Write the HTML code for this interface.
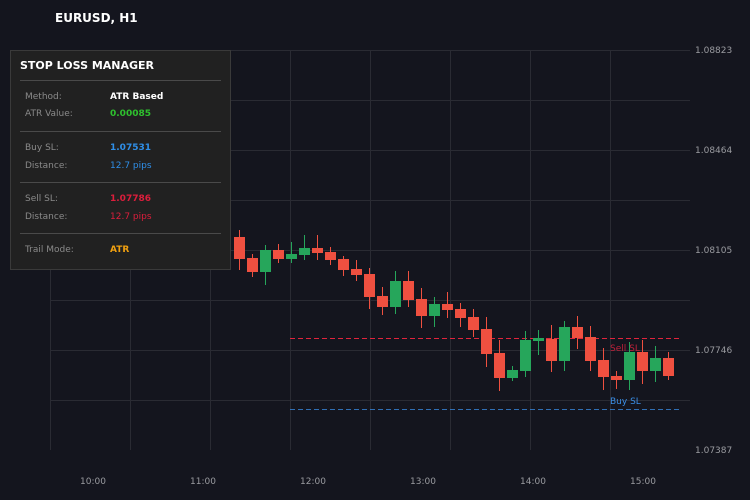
<!DOCTYPE html>
<html><head><meta charset="utf-8"><style>
html,body{margin:0;padding:0;background:#14151e;}
svg{display:block;font-family:"DejaVu Sans","Liberation Sans",sans-serif;}
</style></head><body>
<svg width="750" height="500" viewBox="0 0 750 500" xmlns="http://www.w3.org/2000/svg">
<rect width="750" height="500" fill="#14151e"/>
<g stroke="#2a2b33" stroke-width="1">
<line x1="50" y1="50.5" x2="690" y2="50.5"/>
<line x1="50" y1="100.5" x2="690" y2="100.5"/>
<line x1="50" y1="150.5" x2="690" y2="150.5"/>
<line x1="50" y1="200.5" x2="690" y2="200.5"/>
<line x1="50" y1="250.5" x2="690" y2="250.5"/>
<line x1="50" y1="300.5" x2="690" y2="300.5"/>
<line x1="50" y1="350.5" x2="690" y2="350.5"/>
<line x1="50" y1="400.5" x2="690" y2="400.5"/>
<line x1="50.5" y1="50" x2="50.5" y2="450"/>
<line x1="130.5" y1="50" x2="130.5" y2="450"/>
<line x1="210.5" y1="50" x2="210.5" y2="450"/>
<line x1="290.5" y1="50" x2="290.5" y2="450"/>
<line x1="370.5" y1="50" x2="370.5" y2="450"/>
<line x1="450.5" y1="50" x2="450.5" y2="450"/>
<line x1="530.5" y1="50" x2="530.5" y2="450"/>
<line x1="610.5" y1="50" x2="610.5" y2="450"/>
</g>
<g font-size="9" fill="#9a9ba0">
<text x="695" y="53">1.08823</text>
<text x="695" y="153">1.08464</text>
<text x="695" y="253">1.08105</text>
<text x="695" y="353">1.07746</text>
<text x="695" y="453">1.07387</text>
</g>
<g font-size="9" fill="#9a9ba0" text-anchor="middle">
<text x="93" y="484">10:00</text>
<text x="203" y="484">11:00</text>
<text x="313" y="484">12:00</text>
<text x="423" y="484">13:00</text>
<text x="533" y="484">14:00</text>
<text x="643" y="484">15:00</text>
</g>
<text x="55" y="22" font-size="12" font-weight="bold" fill="#ffffff">EURUSD, H1</text>
<line x1="290" y1="338.5" x2="680" y2="338.5" stroke="#e0243c" stroke-width="1" stroke-dasharray="5,3"/>
<line x1="290" y1="409.5" x2="680" y2="409.5" stroke="#3a8ee6" stroke-width="1" stroke-dasharray="5,3" opacity="0.75"/>
<text x="610" y="351" font-size="9" fill="#c0203a">Sell SL</text>
<text x="610" y="404" font-size="9" fill="#3a8ee6">Buy SL</text>
<g fill="#ef5040" stroke="#ef5040">
<line x1="239.5" y1="230" x2="239.5" y2="270"/><rect x="234" y="237" width="11" height="22" stroke="none"/>
<line x1="252.5" y1="254" x2="252.5" y2="277"/><rect x="247" y="258" width="11" height="14" stroke="none"/>
<line x1="278.5" y1="244" x2="278.5" y2="263"/><rect x="273" y="250" width="11" height="9" stroke="none"/>
<line x1="317.5" y1="235" x2="317.5" y2="260"/><rect x="312" y="248" width="11" height="5" stroke="none"/>
<line x1="330.5" y1="247" x2="330.5" y2="265"/><rect x="325" y="252" width="11" height="8" stroke="none"/>
<line x1="343.5" y1="256" x2="343.5" y2="276"/><rect x="338" y="259" width="11" height="11" stroke="none"/>
<line x1="356.5" y1="260" x2="356.5" y2="281"/><rect x="351" y="269" width="11" height="6" stroke="none"/>
<line x1="369.5" y1="268" x2="369.5" y2="309"/><rect x="364" y="274" width="11" height="23" stroke="none"/>
<line x1="382.5" y1="287" x2="382.5" y2="315"/><rect x="377" y="296" width="11" height="11" stroke="none"/>
<line x1="408.5" y1="271" x2="408.5" y2="307"/><rect x="403" y="281" width="11" height="19" stroke="none"/>
<line x1="421.5" y1="288" x2="421.5" y2="328"/><rect x="416" y="299" width="11" height="17" stroke="none"/>
<line x1="447.5" y1="292" x2="447.5" y2="318"/><rect x="442" y="304" width="11" height="6" stroke="none"/>
<line x1="460.5" y1="303" x2="460.5" y2="327"/><rect x="455" y="309" width="11" height="9" stroke="none"/>
<line x1="473.5" y1="309" x2="473.5" y2="337"/><rect x="468" y="317" width="11" height="13" stroke="none"/>
<line x1="486.5" y1="317" x2="486.5" y2="367"/><rect x="481" y="329" width="11" height="25" stroke="none"/>
<line x1="499.5" y1="340" x2="499.5" y2="391"/><rect x="494" y="353" width="11" height="25" stroke="none"/>
<line x1="551.5" y1="325" x2="551.5" y2="372"/><rect x="546" y="339" width="11" height="22" stroke="none"/>
<line x1="577.5" y1="316" x2="577.5" y2="349"/><rect x="572" y="327" width="11" height="11" stroke="none"/>
<line x1="590.5" y1="326" x2="590.5" y2="371"/><rect x="585" y="337" width="11" height="24" stroke="none"/>
<line x1="603.5" y1="348" x2="603.5" y2="390"/><rect x="598" y="360" width="11" height="17" stroke="none"/>
<line x1="616.5" y1="371" x2="616.5" y2="389"/><rect x="611" y="376" width="11" height="4" stroke="none"/>
<line x1="642.5" y1="340" x2="642.5" y2="384"/><rect x="637" y="352" width="11" height="19" stroke="none"/>
<line x1="668.5" y1="352" x2="668.5" y2="380"/><rect x="663" y="358" width="11" height="18" stroke="none"/>
</g>
<g fill="#26a65b" stroke="#26a65b">
<line x1="265.5" y1="245" x2="265.5" y2="285"/><rect x="260" y="250" width="11" height="22" stroke="none"/>
<line x1="291.5" y1="242" x2="291.5" y2="263"/><rect x="286" y="254" width="11" height="5" stroke="none"/>
<line x1="304.5" y1="235" x2="304.5" y2="260"/><rect x="299" y="248" width="11" height="7" stroke="none"/>
<line x1="395.5" y1="271" x2="395.5" y2="314"/><rect x="390" y="281" width="11" height="26" stroke="none"/>
<line x1="434.5" y1="297" x2="434.5" y2="327"/><rect x="429" y="304" width="11" height="12" stroke="none"/>
<line x1="512.5" y1="366" x2="512.5" y2="381"/><rect x="507" y="370" width="11" height="8" stroke="none"/>
<line x1="525.5" y1="331" x2="525.5" y2="377"/><rect x="520" y="340" width="11" height="31" stroke="none"/>
<line x1="538.5" y1="330" x2="538.5" y2="355"/><rect x="533" y="338" width="11" height="3" stroke="none"/>
<line x1="564.5" y1="321" x2="564.5" y2="371"/><rect x="559" y="327" width="11" height="34" stroke="none"/>
<line x1="629.5" y1="342" x2="629.5" y2="390"/><rect x="624" y="352" width="11" height="28" stroke="none"/>
<line x1="655.5" y1="346" x2="655.5" y2="382"/><rect x="650" y="358" width="11" height="13" stroke="none"/>
</g>
<rect x="10.5" y="50.5" width="220" height="219" fill="#212121" stroke="#3a3a3a"/>
<text x="20" y="69" font-size="11" font-weight="bold" fill="#ffffff">STOP LOSS MANAGER</text>
<g stroke="#4a4a4a"><line x1="20" y1="80.5" x2="221" y2="80.5"/><line x1="20" y1="131.5" x2="221" y2="131.5"/><line x1="20" y1="182.5" x2="221" y2="182.5"/><line x1="20" y1="233.5" x2="221" y2="233.5"/></g>
<g font-size="9" fill="#8a8a8a">
<text x="25" y="99">Method:</text><text x="25" y="116">ATR Value:</text>
<text x="25" y="150">Buy SL:</text><text x="25" y="168">Distance:</text>
<text x="25" y="201">Sell SL:</text><text x="25" y="219">Distance:</text>
<text x="25" y="252">Trail Mode:</text>
</g>
<g font-size="9">
<text x="110" y="99" fill="#ffffff" font-weight="bold">ATR Based</text>
<text x="110" y="116" fill="#2ec12e" font-weight="bold">0.00085</text>
<text x="110" y="150" fill="#2f8fe8" font-weight="bold">1.07531</text>
<text x="110" y="168" fill="#2f8fe8">12.7 pips</text>
<text x="110" y="201" fill="#dc1e3c" font-weight="bold">1.07786</text>
<text x="110" y="219" fill="#dc1e3c">12.7 pips</text>
<text x="110" y="252" fill="#f0a010" font-weight="bold">ATR</text>
</g>
</svg>
</body></html>
